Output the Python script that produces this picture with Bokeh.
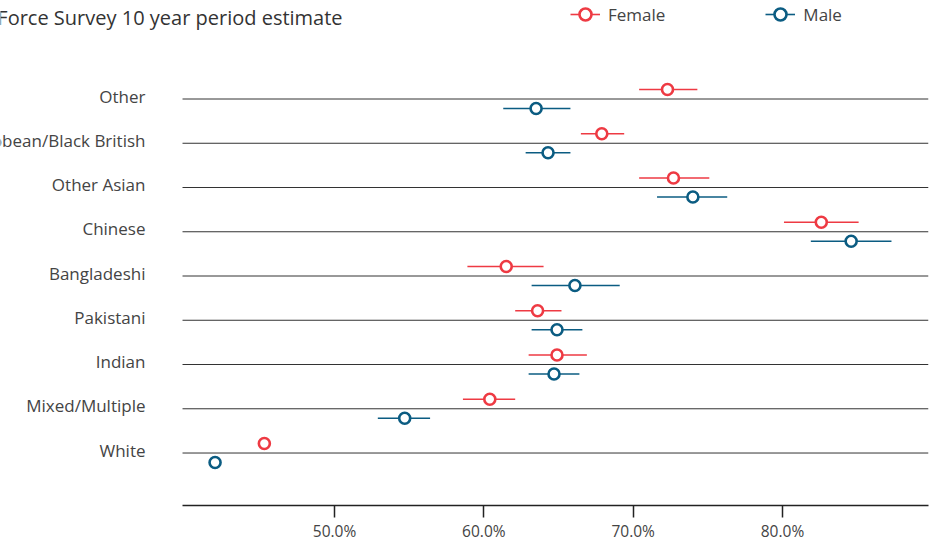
from bokeh.plotting import figure
from bokeh.models import Range1d, FixedTicker, PrintfTickFormatter, Legend, LegendItem, ColumnDataSource
from bokeh.core.properties import value
from bokeh.embed import file_html
from bokeh.resources import INLINE

# ---- data (percent) ----
categories = ["White", "Mixed/Multiple", "Indian", "Pakistani", "Bangladeshi",
              "Chinese", "Other Asian", "Black/African/Caribbean/Black British", "Other"]
female = [45.3, 60.4, 64.9, 63.6, 61.5, 82.6, 72.7, 67.9, 72.3]
female_lo = [45.0, 58.6, 63.0, 62.1, 58.9, 80.1, 70.4, 66.5, 70.4]
female_hi = [45.6, 62.1, 66.9, 65.2, 64.0, 85.1, 75.1, 69.4, 74.3]
male = [42.0, 54.7, 64.7, 64.9, 66.1, 84.6, 74.0, 64.3, 63.5]
male_lo = [41.7, 52.9, 63.0, 63.2, 63.2, 81.9, 71.6, 62.8, 61.3]
male_hi = [42.3, 56.4, 66.4, 66.6, 69.1, 87.3, 76.3, 65.8, 65.8]
x_ticks = [50, 60, 70, 80]
subtitle = "Labour Force Survey 10 year period estimate"

# ---- styles / layout ----
RED = "#ee3a43"
BLUE = "#0b5c82"
FONT = "Open Sans"
X_START, X_END = 27.63, 89.78
AXIS_LO = 39.82
LABEL_X = 37.34
F_OFF, M_OFF = 0.215, -0.215

idx = list(range(len(categories)))
src = ColumnDataSource(dict(
    cat=categories, idx=idx,
    yf=[i + F_OFF for i in idx], ym=[i + M_OFF for i in idx],
    f=female, flo=female_lo, fhi=female_hi,
    m=male, mlo=male_lo, mhi=male_hi,
))

p = figure(width=933, height=544, output_backend="svg", toolbar_location=None,
           x_range=Range1d(X_START, X_END), y_range=Range1d(-1.186, 10.226),
           y_axis_location=None,
           min_border_left=0, min_border_right=5, min_border_top=0, min_border_bottom=39)
p.outline_line_color = None
p.xgrid.visible = False
p.ygrid.visible = False

# category lines
p.segment(x0=AXIS_LO, x1=X_END, y0="idx", y1="idx", source=src, line_color="#333333", line_width=1)

# error bars + points
seg_f = p.segment(x0="flo", x1="fhi", y0="yf", y1="yf", source=src, line_color=RED, line_width=1.6)
seg_m = p.segment(x0="mlo", x1="mhi", y0="ym", y1="ym", source=src, line_color=BLUE, line_width=1.6)
sc_f = p.scatter(x="f", y="yf", source=src, marker="circle", size=11, fill_color="white",
                 line_color=RED, line_width=2.6)
sc_m = p.scatter(x="m", y="ym", source=src, marker="circle", size=11, fill_color="white",
                 line_color=BLUE, line_width=2.6)

# category labels
p.text(x=LABEL_X, y="idx", text="cat", source=src, text_align="right", text_baseline="middle",
       y_offset=-3, text_font=value(FONT), text_font_size="17px", text_color="#444444")

# subtitle (cropped on the left as in the reference)
p.text(x=[50.54], y=[9.84], text=[subtitle], text_align="right", text_baseline="middle",
       text_font=value(FONT), text_font_size="20px", text_color="#333333")

# x axis
ax = p.xaxis[0]
ax.bounds = (AXIS_LO, X_END)
ax.ticker = FixedTicker(ticks=x_ticks)
ax.formatter = PrintfTickFormatter(format="%.1f%%")
ax.axis_line_color = "#222222"
ax.axis_line_width = 1.5
ax.major_tick_line_color = "#222222"
ax.major_tick_line_width = 1.5
ax.major_tick_out = 12
ax.major_tick_in = 0
ax.minor_tick_line_color = None
ax.major_label_standoff = 2
ax.axis_label_standoff = 0
ax.major_label_text_font = FONT
ax.major_label_text_font_size = "15.5px"
ax.major_label_text_color = "#444444"

# legend
legend = Legend(items=[LegendItem(label="Female", renderers=[seg_f, sc_f]),
                       LegendItem(label="Male", renderers=[seg_m, sc_m])],
                orientation="horizontal", location=(570, 475),
                glyph_width=30, glyph_height=32, label_standoff=8, spacing=100,
                padding=0, margin=0, border_line_color=None, background_fill_alpha=0,
                label_text_font=FONT, label_text_font_size="17px", label_text_color="#444444")
p.add_layout(legend)

open("out.html", "w").write(file_html(p, INLINE))
